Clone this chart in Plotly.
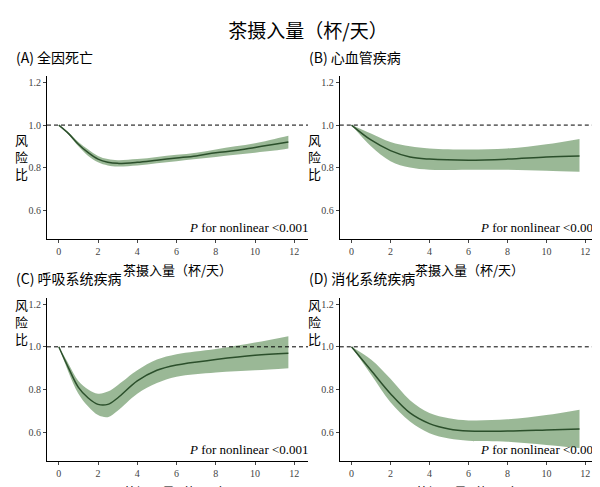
import plotly.graph_objects as go

# panel data: x, mean, lower, upper
xa = [0, 0.5, 1, 1.5, 2, 2.5, 3, 4, 5, 6, 7, 8, 9, 10, 11, 11.7]
ya = [1.0, 0.96, 0.91, 0.87, 0.84, 0.825, 0.82, 0.825, 0.835, 0.845, 0.855, 0.87, 0.88, 0.895, 0.91, 0.92]
la = [1.0, 0.955, 0.9, 0.855, 0.825, 0.81, 0.805, 0.81, 0.82, 0.83, 0.84, 0.85, 0.86, 0.87, 0.88, 0.89]
ua = [1.0, 0.965, 0.92, 0.885, 0.855, 0.84, 0.835, 0.84, 0.85, 0.86, 0.87, 0.885, 0.9, 0.915, 0.935, 0.95]

xb = [0, 1, 2, 3, 4, 6, 8, 10, 11.7]
yb = [1.0, 0.93, 0.88, 0.85, 0.84, 0.835, 0.84, 0.85, 0.855]
lb = [1.0, 0.9, 0.83, 0.8, 0.79, 0.79, 0.79, 0.785, 0.78]
ub = [1.0, 0.96, 0.92, 0.9, 0.89, 0.885, 0.89, 0.91, 0.935]

xc = [0, 0.5, 1, 1.5, 2, 2.5, 3, 4, 5, 6, 8, 10, 11.7]
yc = [1.0, 0.9, 0.81, 0.76, 0.73, 0.73, 0.76, 0.84, 0.89, 0.915, 0.94, 0.96, 0.97]
lc = [1.0, 0.88, 0.78, 0.72, 0.68, 0.67, 0.7, 0.78, 0.83, 0.86, 0.88, 0.89, 0.9]
uc = [1.0, 0.92, 0.84, 0.8, 0.78, 0.79, 0.82, 0.89, 0.94, 0.965, 0.99, 1.02, 1.05]

xd = [0, 1, 2, 3, 4, 5, 6, 8, 10, 11.7]
yd = [1.0, 0.89, 0.78, 0.69, 0.64, 0.615, 0.605, 0.605, 0.61, 0.615]
ld = [1.0, 0.87, 0.74, 0.65, 0.595, 0.57, 0.56, 0.555, 0.54, 0.525]
ud = [1.0, 0.94, 0.85, 0.75, 0.69, 0.665, 0.655, 0.66, 0.68, 0.705]

panels = [
    ("(A) 全因死亡", xa, ya, la, ua, [0.065, 0.5], [0.526, 0.86]),
    ("(B) 心血管疾病", xb, yb, lb, ub, [0.553, 0.985], [0.526, 0.86]),
    ("(C) 呼吸系统疾病", xc, yc, lc, uc, [0.065, 0.5], [0.07, 0.405]),
    ("(D) 消化系统疾病", xd, yd, ld, ud, [0.553, 0.985], [0.07, 0.405]),
]

fig = go.Figure()
font = "Noto Sans CJK SC"
for i, (title, x, y, lo, up, dx, dy) in enumerate(panels):
    n = "" if i == 0 else str(i + 1)
    xr, yr = "x" + n, "y" + n
    fig.add_trace(go.Scatter(x=x, y=up, mode="lines", line=dict(width=0, shape="spline"),
                             xaxis=xr, yaxis=yr, showlegend=False, hoverinfo="skip"))
    fig.add_trace(go.Scatter(x=x, y=lo, mode="lines", line=dict(width=0, shape="spline"),
                             fill="tonexty", fillcolor="rgba(120,160,115,0.75)",
                             xaxis=xr, yaxis=yr, showlegend=False, hoverinfo="skip"))
    fig.add_trace(go.Scatter(x=x, y=y, mode="lines", line=dict(color="#2b4f2b", width=1.5, shape="spline"),
                             xaxis=xr, yaxis=yr, showlegend=False))
    fig.add_trace(go.Scatter(x=[-0.6, 12.7], y=[1, 1], mode="lines",
                             line=dict(color="black", width=1, dash="4px,3px"),
                             xaxis=xr, yaxis=yr, showlegend=False, hoverinfo="skip"))
    fig.layout["xaxis" + n] = dict(domain=dx, range=[-0.6, 12.7], anchor=yr, automargin=False,
                                   tickvals=[0, 2, 4, 6, 8, 10, 12], ticks="outside", ticklen=3,
                                   showline=True, linecolor="black", showgrid=False, zeroline=False,
                                   tickfont=dict(family="Liberation Serif", size=10, color="#444"))
    fig.layout["yaxis" + n] = dict(domain=dy, range=[0.465, 1.23], anchor=xr, automargin=False,
                                   tickvals=[0.6, 0.8, 1.0, 1.2], ticktext=["0.6", "0.8", "1.0", "1.2"],
                                   ticks="outside", ticklen=3,
                                   showline=True, linecolor="black", showgrid=False, zeroline=False,
                                   tickfont=dict(family="Liberation Serif", size=10, color="#444"))
    fig.add_annotation(text=title, x=dx[0] - 0.055, y=dy[1] + 0.015, xref="paper", yref="paper",
                       xanchor="left", yanchor="bottom", showarrow=False,
                       font=dict(family=font, size=14, color="black"))
    fig.add_annotation(text="风<br>险<br>比", x=dx[0] - 0.042, y=(dy[0] + dy[1]) / 2 + 0.06,
                       xref="paper", yref="paper", xanchor="center", showarrow=False,
                       font=dict(family=font, size=13, color="black"))
    fig.add_annotation(text="茶摄入量（杯/天）", x=(dx[0] + dx[1]) / 2, y=dy[0] - 0.04,
                       xref="paper", yref="paper", xanchor="center", yanchor="top", showarrow=False,
                       font=dict(family=font, size=13, color="black"))
    fig.add_annotation(text="<i>P</i> for nonlinear <0.001", x=dx[1] + 0.005, y=dy[0] + 0.003,
                       xref="paper", yref="paper", xanchor="right", yanchor="bottom", showarrow=False,
                       font=dict(family="Liberation Serif", size=13, color="black"))

fig.update_layout(width=600, height=487, margin=dict(l=0, r=0, t=0, b=0),
                  plot_bgcolor="white", paper_bgcolor="white",
                  title=dict(text="茶摄入量（杯/天）", x=0.5, y=0.965, xanchor="center",
                             font=dict(family=font, size=19, color="black")))
fig.write_html("out.html")
